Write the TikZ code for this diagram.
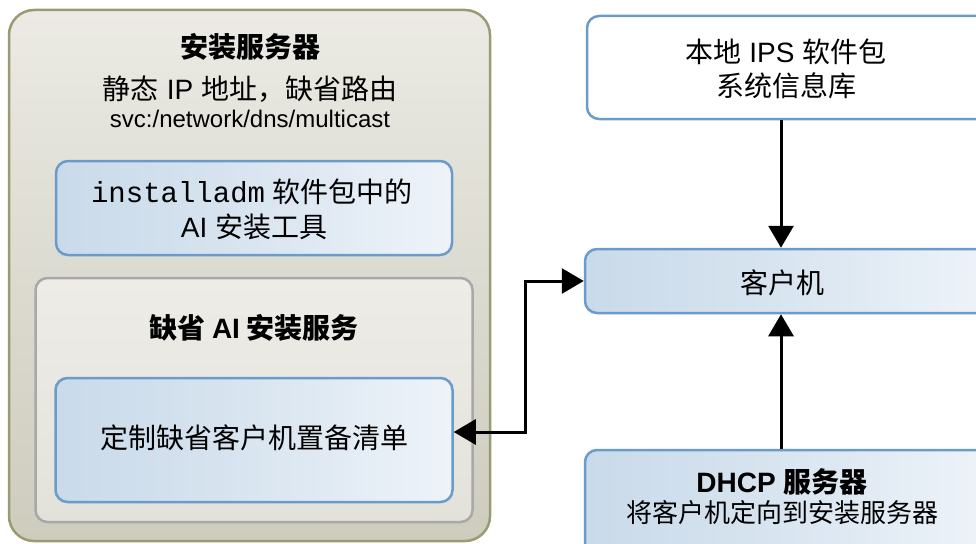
\documentclass[tikz,border=0pt]{standalone}
\usepackage{fontspec}
\setmainfont{Liberation Sans}
\setmonofont{Liberation Mono}
\newfontfamily\cjk{Noto Sans CJK SC}
\usetikzlibrary{arrows.meta,calc}
\newcommand\zh[1]{{\cjk #1}}
\newcommand\fsz[1]{\fontsize{#1}{#1}\selectfont}
\definecolor{olivebd}{HTML}{9B9B73}
\definecolor{bluebd}{HTML}{6A9BCB}
\definecolor{graybd}{HTML}{A8A8A8}
\definecolor{outertop}{HTML}{EBEAE4}
\definecolor{outerbot}{HTML}{CDCCBD}
\definecolor{graytop}{HTML}{EDECE7}
\definecolor{graybot}{HTML}{E3E2DA}
\definecolor{blueleft}{HTML}{C9DAEA}
\definecolor{bluemid}{HTML}{D9E5F0}
\definecolor{blueright}{HTML}{EEF3F9}
\tikzset{
  outerbox/.style={draw=olivebd, line width=2.5pt, rounded corners=25pt, top color=outertop, bottom color=outerbot, minimum width=481pt, minimum height=531pt},
  graybox/.style={draw=graybd, line width=2.5pt, rounded corners=12pt, top color=graytop, bottom color=graybot, minimum width=437pt, minimum height=244pt},
  bluebox/.style={draw=bluebd, line width=2.5pt, rounded corners=12pt, left color=blueleft, right color=blueright, middle color=bluemid},
  whitebox/.style={draw=bluebd, line width=2.5pt, rounded corners=12pt, fill=white},
  txt/.style={inner sep=0pt, anchor=center, align=center, text=black},
  arr/.style={line width=3pt, -{Triangle[length=22pt,width=25pt]}},
  darr/.style={line width=3pt, {Triangle[length=22pt,width=25pt]}-{Triangle[length=22pt,width=25pt]}},
}
\begin{document}
\begin{tikzpicture}[x=1pt,y=-1pt]
\useasboundingbox (0,0) rectangle (976,543);
% left server block
\node[outerbox] (server) at (249.5,275.5) {};
\node[txt] (servertitle) at (250,47) {\fsz{28}\cjk\bfseries 安装服务器};
\node[txt] (serverip) at (250,89) {\fsz{28}\zh{静态} IP \zh{地址，缺省路由}};
\node[txt] (serversvc) at (250,119) {\fsz{24}svc:/network/dns/multicast};
\node[bluebox, minimum width=396pt, minimum height=94pt] (tools) at (254,208) {};
\node[txt] (tools1) at (252,192) {\fsz{28}{\ttfamily\fsz{29}installadm} \zh{软件包中的}};
\node[txt] (tools2) at (254,227) {\fsz{28}AI \zh{安装工具}};
\node[graybox] (aisvc) at (254,400) {};
\node[txt] (aisvctitle) at (254,328) {\fsz{28}\bfseries\cjk\bfseries 缺省 {\rmfamily\bfseries AI} 安装服务};
\node[bluebox, minimum width=397pt, minimum height=124pt] (manifest) at (254,440) {};
\node[txt] (manifesttxt) at (254,438) {\fsz{28}\zh{定制缺省客户机置备清单}};
% right column
\node[whitebox, minimum width=403pt, minimum height=103pt] (repo) at (788.5,67.5) {};
\node[txt] (repo1) at (786,52) {\fsz{28}\zh{本地} IPS \zh{软件包}};
\node[txt] (repo2) at (786,86) {\fsz{28}\zh{系统信息库}};
\node[bluebox, minimum width=405pt, minimum height=64pt] (client) at (787.5,281) {};
\node[txt] (clienttxt) at (782,283) {\fsz{28}\zh{客户机}};
\node[bluebox, minimum width=405pt, minimum height=110pt] (dhcp) at (787.5,505) {};
\node[txt] (dhcp1) at (782,482) {\fsz{28}\bfseries DHCP {\cjk\bfseries 服务器}};
\node[txt] (dhcp2) at (782,513) {\fsz{26}\zh{将客户机定向到安装服务器}};
% connectors
\coordinate (axis) at (781,0);
\coordinate (bend) at (525,432);
\draw[arr] (repo.south -| axis) -- (client.north -| axis);
\draw[arr] (dhcp.north -| axis) -- (client.south -| axis);
\draw[darr] (client.west) -| (bend) -- (bend -| manifest.east);
\end{tikzpicture}
\end{document}
